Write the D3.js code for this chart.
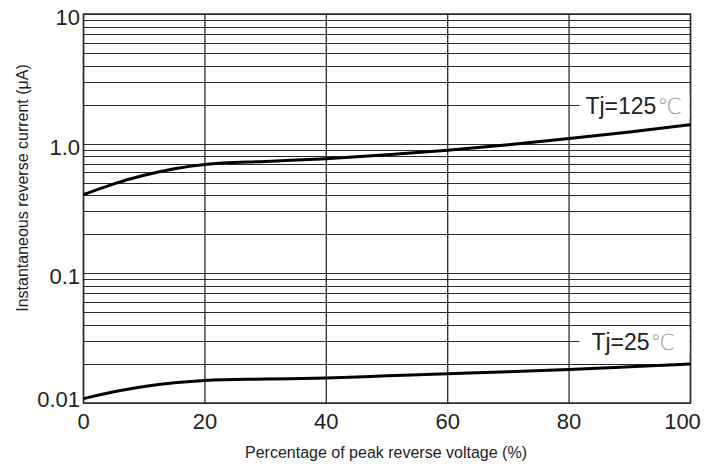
<!DOCTYPE html>
<html>
<head>
<meta charset="utf-8">
<script src="https://cdn.jsdelivr.net/npm/d3@7"></script>
<style>
  body { margin: 0; background: #fff; }
  text { font-family: Arial, "Liberation Sans", sans-serif; fill: #222; }
</style>
</head>
<body>
<div class="canvas"></div>
<script>
// data
const voltagePct = [0, 5, 10, 15, 20, 30, 40, 50, 60, 70, 80, 90, 100];
const current125 = [0.404, 0.49, 0.57, 0.64, 0.69, 0.73, 0.766, 0.82, 0.888, 0.98, 1.094, 1.23, 1.40];
const current25 = [0.0108, 0.0122, 0.0134, 0.0143, 0.0149, 0.0153, 0.0156, 0.0162, 0.0168, 0.0174, 0.0181, 0.019, 0.0200];
const xTicks = [0, 20, 40, 60, 80, 100];
const yTicks = [0.01, 0.1, 1, 10];
const yTickLabels = ['0.01', '0.1', '1.0', '10'];
const seriesNames = ['Tj=125', 'Tj=25'];
const labelAt = [2, 0.03]; // grid line each label sits on

let dims, svg, graph, x, y, line;

// dimensions
const initDims = () => {
    dims = {width: 719, height: 469, left: 83.5, top: 14, right: 28.5, bottom: 66};
    dims.innerW = dims.width - dims.left - dims.right;
    dims.innerH = dims.height - dims.top - dims.bottom;
}

const initSvg = () => {
    svg = d3.select('.canvas')
        .append('svg')
        .attr('width', dims.width)
        .attr('height', dims.height);

    graph = svg.append('g')
        .attr('transform', `translate(${dims.left}, ${dims.top})`);
}

const initScales = () => {
    x = d3.scaleLinear().domain([0, 100]).range([0, dims.innerW]);
    y = d3.scaleLog().domain([0.01, 10]).range([dims.innerH, 0]);

    line = d3.line()
        .x(d => x(d[0]))
        .y(d => y(d[1]))
        .curve(d3.curveMonotoneX);
}

const drawGrid = () => {
    // every 1..9 line of each decade
    const logLines = [];
    yTicks.slice(0, -1).forEach(dec => {
        for (let k = 1; k < 10; k++) logLines.push(dec * k);
    });
    logLines.push(10);

    graph.append('g')
        .selectAll('line')
        .data(logLines)
        .enter().append('line')
        .attr('x1', 0).attr('x2', dims.innerW)
        .attr('y1', d => Math.round(y(d)) + 0.5)
        .attr('y2', d => Math.round(y(d)) + 0.5)
        .attr('stroke', '#2a2a2a')
        .attr('stroke-width', 1.2);

    graph.append('g')
        .selectAll('line')
        .data(xTicks)
        .enter().append('line')
        .attr('x1', d => x(d)).attr('x2', d => x(d))
        .attr('y1', 0).attr('y2', dims.innerH)
        .attr('stroke', '#2a2a2a')
        .attr('stroke-width', 1.3);

    // frame
    graph.append('rect')
        .attr('width', dims.innerW)
        .attr('height', dims.innerH)
        .attr('fill', 'none')
        .attr('stroke', '#2a2a2a')
        .attr('stroke-width', 1.5);
}

const drawAxes = () => {
    // y tick labels
    graph.append('g')
        .selectAll('text')
        .data(yTicks)
        .enter().append('text')
        .attr('x', -3.5)
        .attr('y', (d, i) => y(d) + (i === 0 ? 3.5 : 11))
        .attr('text-anchor', 'end')
        .attr('font-size', 22)
        .text((d, i) => yTickLabels[i]);

    // x tick labels
    graph.append('g')
        .selectAll('text')
        .data(xTicks)
        .enter().append('text')
        .attr('x', (d, i) => x(d) + (i === xTicks.length - 1 ? -8 : 0))
        .attr('y', dims.innerH + 26)
        .attr('text-anchor', 'middle')
        .attr('font-size', 22)
        .text(d => d);

    svg.append('text')
        .attr('x', 386)
        .attr('y', 458)
        .attr('text-anchor', 'middle')
        .attr('font-size', 16)
        .text('Percentage of peak reverse voltage (%)');

    svg.append('text')
        .attr('transform', 'translate(28, 188) rotate(-90)')
        .attr('text-anchor', 'middle')
        .attr('font-size', 16)
        .text('Instantaneous reverse current (\u03bcA)');
}

const drawCurves = () => {
    [current125, current25].forEach(vals => {
        graph.append('path')
            .datum(voltagePct.map((v, i) => [v, vals[i]]))
            .attr('d', line)
            .attr('fill', 'none')
            .attr('stroke', '#000')
            .attr('stroke-width', 3);
    });

    // labels sit on a grid line, with a white box behind them
    const lab = graph.append('g')
        .selectAll('g')
        .data(seriesNames)
        .enter().append('g')
        .attr('transform', (d, i) => `translate(${x(81.7)}, ${Math.round(y(labelAt[i])) + 0.5})`);

    lab.append('rect')
        .attr('x', 0).attr('y', -12)
        .attr('width', x(100) - x(81.7) - 1)
        .attr('height', 24)
        .attr('fill', '#fff');

    const t = lab.append('text')
        .attr('x', (d, i) => i === 0 ? 6 : 12)
        .attr('y', 8)
        .attr('font-size', 23);
    t.append('tspan').text(d => d);
    t.append('tspan')
        .attr('dx', 1)
        .attr('font-size', 22)
        .style('fill', '#9a9a9a')
        .style('font-family', '"DejaVu Sans", sans-serif')
        .style('font-weight', 200)
        .text('\u2103');
}

const init = () => {
    initDims();
    initSvg();
    initScales();
    drawGrid();
    drawAxes();
    drawCurves();
}

init();
</script>
</body>
</html>
